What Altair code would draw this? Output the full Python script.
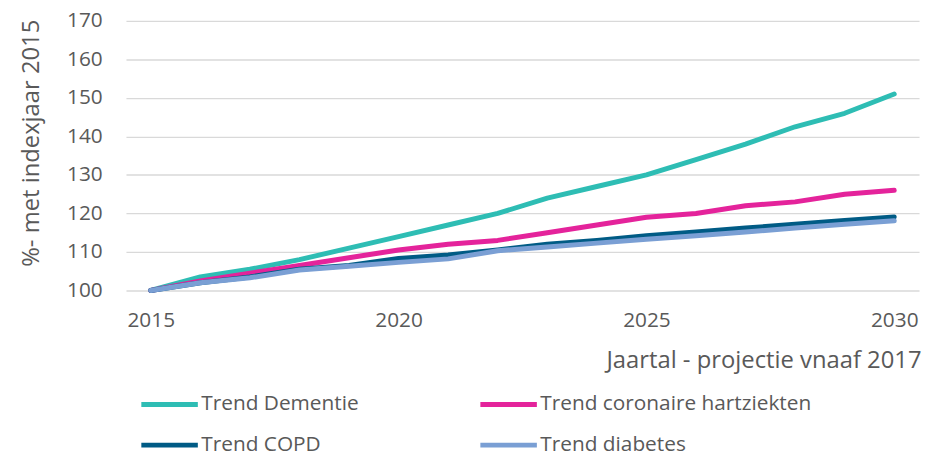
import altair as alt
import pandas as pd

years = list(range(2015, 2031))
dementie = [100, 103.5, 105.5, 108, 111, 114, 117, 120, 124, 127, 130, 134, 138, 142.5, 146, 151]
coronaire = [100, 102.5, 104.5, 106.5, 108.5, 110.5, 112, 113, 115, 117, 119, 120, 122, 123, 125, 126]
copd = [100, 102, 103.5, 105.5, 106.5, 108.3, 109.2, 110.5, 112, 113, 114.2, 115.2, 116.2, 117.2, 118.2, 119.1]
diabetes = [100, 102, 103.3, 105.3, 106.3, 107.3, 108.2, 110.3, 111.3, 112.3, 113.3, 114.2, 115.2, 116.2, 117.2, 118.1]

series_names = ["Trend Dementie", "Trend coronaire hartziekten", "Trend COPD", "Trend diabetes"]
series_colors = ["#2EBDB4", "#E4239B", "#005B85", "#7A9FD4"]
# legend fills column by column: order so that rows read Dementie/coronaire, COPD/diabetes
legend_order = ["Trend Dementie", "Trend COPD", "Trend coronaire hartziekten", "Trend diabetes"]
legend_colors = [series_colors[series_names.index(n)] for n in legend_order]
x_ticks = [2015, 2020, 2025, 2030]
y_ticks = [100, 110, 120, 130, 140, 150, 160, 170]

rows = []
for name, vals in zip(series_names, [dementie, coronaire, copd, diabetes]):
    for yr, v in zip(years, vals):
        rows.append({"jaar": yr, "waarde": v, "reeks": name})
df = pd.DataFrame(rows)

FONT = "Open Sans"
GREY = "#595959"

chart = alt.Chart(df).mark_line(strokeWidth=5, strokeCap="round", strokeJoin="round").encode(
    x=alt.X("jaar:Q",
            scale=alt.Scale(domain=[2014.5, 2030.5], nice=False, zero=False),
            axis=alt.Axis(values=x_ticks, format="d", grid=False, ticks=False, tickSize=0,
                          domain=False, labelPadding=19, labelFontSize=21, labelFont=FONT,
                          labelColor=GREY, title="Jaartal - projectie vnaaf 2017",
                          titleFont=FONT, titleFontSize=24, titleFontWeight="normal",
                          titleColor=GREY, titleX=802, titleY=71, titleAlign="right",
                          titleBaseline="middle")),
    y=alt.Y("waarde:Q",
            scale=alt.Scale(domain=[100, 170], nice=False, zero=False),
            axis=alt.Axis(values=y_ticks, grid=True, gridColor="#D9D9D9", gridWidth=1.4,
                          ticks=False, tickSize=0, domain=False, labelPadding=24,
                          labelFontSize=21, labelFont=FONT, labelColor=GREY,
                          title="%- met indexjaar 2015", titleFont=FONT, titleFontSize=24,
                          titleFontWeight="normal", titleColor=GREY, titleX=-95, titleY=123,
                          titleAngle=270, titleAlign="center", titleBaseline="middle")),
    color=alt.Color("reeks:N",
                    scale=alt.Scale(domain=legend_order, range=legend_colors),
                    legend=alt.Legend(orient="none", legendX=13, legendY=356, columns=2,
                                      title=None, symbolType="stroke", symbolSize=3249,
                                      symbolStrokeWidth=5, labelFont=FONT, labelFontSize=21,
                                      labelColor=GREY, labelOffset=1, labelLimit=400,
                                      columnPadding=112, rowPadding=-9, padding=0)),
).properties(
    width=800, height=272,
    autosize=alt.AutoSizeParams(type="none"),
    padding={"left": 119, "top": 11, "right": 3, "bottom": 165},
).configure_view(stroke=None)

chart.save("out.html", embed_options={"renderer": "svg", "actions": False})
